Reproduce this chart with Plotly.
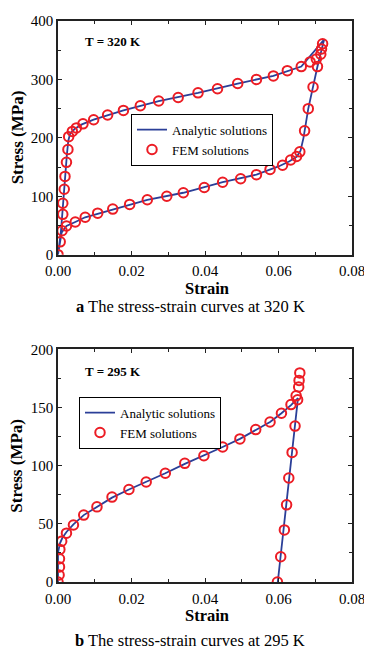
import plotly.graph_objects as go

# ---------------- Data: (a) T = 320 K ----------------
fem320_strain = [0, 0.0006, 0.0013, 0.0013, 0.0017, 0.0019, 0.0023, 0.0027, 0.0029, 0.0039,
                 0.0050, 0.0068, 0.0097, 0.0135, 0.0178, 0.0224, 0.0274, 0.0327, 0.0381, 0.0434,
                 0.0489, 0.0540, 0.0586, 0.0624, 0.0662, 0.0686, 0.0703, 0.0715, 0.0717, 0.0720,
                 0.0706, 0.0694, 0.0681, 0.0671, 0.0658, 0.0649, 0.0633, 0.0611, 0.0577, 0.0540,
                 0.0497, 0.0448, 0.0398, 0.0341, 0.0296, 0.0243, 0.0195, 0.0149, 0.0108, 0.0074,
                 0.0047, 0.0023, 0.0011]
fem320_stress = [0, 22, 69, 88, 112, 134, 158, 180, 202, 211,
                 217, 224, 231, 239, 247, 255, 263, 269, 277, 284,
                 293, 300, 306, 315, 322, 330, 335, 343, 352, 361,
                 322, 287, 250, 212, 176, 168, 162, 153, 146, 137,
                 130, 124, 115, 106, 100, 94, 86, 78, 71, 64,
                 56, 49, 41]

ana320_strain = [0, 0.0008, 0.0013, 0.0018, 0.0024, 0.0028, 0.0033, 0.0045, 0.0065, 0.0097,
                 0.0178, 0.0274, 0.0381, 0.0489, 0.0586, 0.0662, 0.0724,
                 0.0706, 0.0681, 0.0668, 0.0660, 0.0650, 0.0630, 0.0600, 0.0540, 0.0448,
                 0.0341, 0.0243, 0.0149, 0.0108, 0.0074, 0.0047, 0.0023, 0.0010, 0]
ana320_stress = [0, 40, 80, 130, 170, 195, 207, 215, 223, 231,
                 247, 263, 277, 293, 306, 322, 368,
                 322, 250, 200, 178, 168, 160, 151, 137, 124,
                 106, 94, 78, 71, 64, 56, 49, 38, 0]

# ---------------- Data: (b) T = 295 K ----------------
fem295_strain = [0, 0.0003, 0.0004, 0.0004, 0.0005, 0.0010, 0.0023, 0.0042, 0.0070, 0.0106,
                 0.0147, 0.0193, 0.0240, 0.0292, 0.0345, 0.0397, 0.0448, 0.0495, 0.0538, 0.0577,
                 0.0608, 0.0634, 0.0648, 0.0655, 0.0656, 0.0658,
                 0.0652, 0.0645, 0.0637, 0.0628, 0.0622, 0.0616, 0.0606, 0.0597]
fem295_stress = [0, 6, 13, 20, 28, 35, 42, 49, 57.5, 64.6,
                 73, 79.5, 86, 93.5, 102, 108.5, 116, 123, 131, 137.5,
                 145, 152.5, 160, 167.6, 173.3, 179.7,
                 156.6, 134, 111.4, 89.4, 66.3, 44.8, 21.7, 0]

ana295_strain = [0, 0, 0.0005, 0.0012, 0.0023, 0.0042, 0.0070, 0.0106, 0.0147, 0.0193,
                 0.0240, 0.0292, 0.0345, 0.0397, 0.0448, 0.0495, 0.0538, 0.0577, 0.0608, 0.0634,
                 0.0653, 0.0598]
ana295_stress = [0, 25, 33, 38, 43, 49.5, 57.5, 64.6, 72.5, 79.5,
                 86, 93.5, 101.5, 108.5, 116, 123, 130.5, 137.5, 145, 152,
                 158, 0]

series_names = ["Analytic solutions", "FEM solutions"]
temp_labels = ["T = 320 K", "T = 295 K"]
captions = ["The stress-strain curves at 320 K", "The stress-strain curves at 295 K"]
caption_letters = ["a", "b"]
x_label = "Strain"
y_label = "Stress (MPa)"

BLUE = "#2b3f98"
RED = "#ec1c24"
FONT = "Liberation Serif"

fig = go.Figure()

fig.add_trace(go.Scatter(x=ana320_strain, y=ana320_stress, mode="lines", name=series_names[0],
                         line=dict(color=BLUE, width=1.8), xaxis="x", yaxis="y", legend="legend"))
fig.add_trace(go.Scatter(x=fem320_strain, y=fem320_stress, mode="markers", name=series_names[1],
                         marker=dict(symbol="circle-open", size=9.5, color=RED, line=dict(width=2, color=RED)),
                         xaxis="x", yaxis="y", legend="legend"))
fig.add_trace(go.Scatter(x=ana295_strain, y=ana295_stress, mode="lines", name=series_names[0],
                         line=dict(color=BLUE, width=1.8), xaxis="x2", yaxis="y2", legend="legend2"))
fig.add_trace(go.Scatter(x=fem295_strain, y=fem295_stress, mode="markers", name=series_names[1],
                         marker=dict(symbol="circle-open", size=9.5, color=RED, line=dict(width=2, color=RED)),
                         xaxis="x2", yaxis="y2", legend="legend2"))

# The page body adds an 8px margin, so the figure is drawn 8px in from the top-left.
OFF = 8
W, H = 372 - OFF, 652 - OFF
ML, MR, MT, MB = 58 - OFF, 20, 13 - OFF, 70
plot_h = H - MT - MB
plot_w = W - ML - MR

def py(p):  # screen pixel y -> paper fraction
    return (H - MB - (p - OFF)) / plot_h

def px(p):  # screen pixel x -> paper fraction
    return (p - OFF - ML) / plot_w

axis_common = dict(
    showline=True, linewidth=1.5, linecolor="#222", mirror="ticks",
    ticks="inside", ticklen=4, tickwidth=1.2, tickcolor="#222",
    showgrid=False, zeroline=False,
    tickfont=dict(family=FONT, size=15, color="black"),
)
xaxis_extra = dict(range=[0, 0.08], dtick=0.02, tickformat=".2f", ticklabelstandoff=2,
                   minor=dict(dtick=0.01, ticks="inside", ticklen=3, tickcolor="#222"))

fig.update_layout(
    width=W, height=H,
    margin=dict(l=ML, r=MR, t=MT, b=MB),
    paper_bgcolor="white", plot_bgcolor="white",
    font=dict(family=FONT, color="black"),
    xaxis=dict(domain=[0, 1], anchor="y", **xaxis_extra, **axis_common),
    yaxis=dict(domain=[py(250), py(13)], anchor="x", range=[0, 400], dtick=100,
               minor=dict(dtick=50, ticks="inside", ticklen=3, tickcolor="#222"), **axis_common),
    xaxis2=dict(domain=[0, 1], anchor="y2", **xaxis_extra, **axis_common),
    yaxis2=dict(domain=[py(582), py(346)], anchor="x2", range=[0, 200], dtick=50,
                minor=dict(dtick=25, ticks="inside", ticklen=3, tickcolor="#222"), **axis_common),
    legend=dict(x=px(131), y=py(107), xanchor="left", yanchor="top",
                bordercolor="black", borderwidth=1, bgcolor="white",
                font=dict(family=FONT, size=13, color="black"), itemwidth=30, tracegroupgap=0),
    legend2=dict(x=px(79), y=py(394), xanchor="left", yanchor="top",
                 bordercolor="black", borderwidth=1, bgcolor="white",
                 font=dict(family=FONT, size=13, color="black"), itemwidth=30, tracegroupgap=0),
    showlegend=True,
)

ann = []
for yc, lab in ((34, temp_labels[0]), (368, temp_labels[1])):
    ann.append(dict(x=px(83), y=py(yc), xref="paper", yref="paper", text="<b>" + lab + "</b>",
                    showarrow=False, xanchor="left", yanchor="middle", font=dict(family=FONT, size=13)))
for yc in (284, 616):
    ann.append(dict(x=px(207), y=py(yc), xref="paper", yref="paper", text="<b>" + x_label + "</b>",
                    showarrow=False, xanchor="center", yanchor="middle", font=dict(family=FONT, size=16.5)))
for yc in (131, 464):
    ann.append(dict(x=px(17), y=py(yc), xref="paper", yref="paper", text="<b>" + y_label + "</b>",
                    showarrow=False, xanchor="center", yanchor="middle", textangle=-90,
                    font=dict(family=FONT, size=17)))
for yc, letter, cap in ((303, caption_letters[0], captions[0]), (641, caption_letters[1], captions[1])):
    ann.append(dict(x=px(190), y=py(yc), xref="paper", yref="paper",
                    text="<b>" + letter + "</b> " + cap,
                    showarrow=False, xanchor="center", yanchor="middle", font=dict(family=FONT, size=16.5)))
fig.update_layout(annotations=ann)

fig.write_html("out.html")
